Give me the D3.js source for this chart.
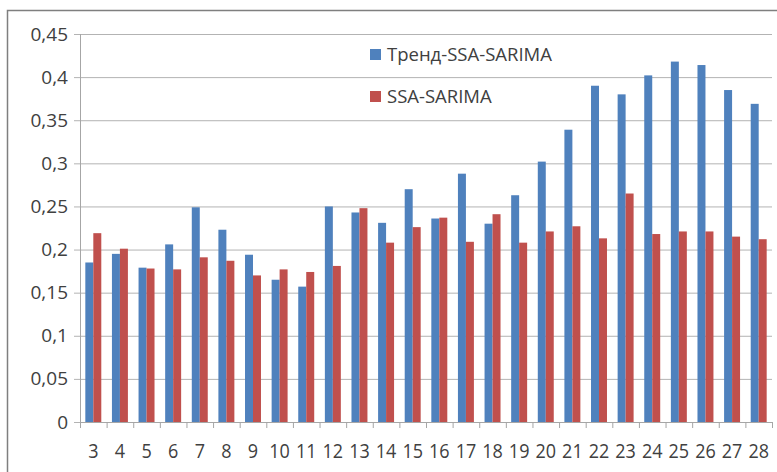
<!DOCTYPE html>
<html>
<head>
<meta charset="utf-8">
<script src="https://cdn.jsdelivr.net/npm/d3@7"></script>
<style>
  body { margin: 0; background: #fff; }
  text { font-family: "Open Sans", sans-serif; fill: #404040; }
</style>
</head>
<body>
<script>
const width = 777;
const height = 472;

// data
const categories = ["3","4","5","6","7","8","9","10","11","12","13","14","15","16","17","18","19","20","21","22","23","24","25","26","27","28"];
const trendSsaSarima = [0.185, 0.195, 0.179, 0.206, 0.249, 0.223, 0.194, 0.165, 0.157, 0.250, 0.243, 0.231, 0.270, 0.236, 0.288, 0.230, 0.263, 0.302, 0.339, 0.390, 0.380, 0.402, 0.418, 0.414, 0.385, 0.369];
const ssaSarima = [0.219, 0.201, 0.178, 0.177, 0.191, 0.187, 0.170, 0.177, 0.174, 0.181, 0.248, 0.208, 0.226, 0.237, 0.209, 0.241, 0.208, 0.221, 0.227, 0.213, 0.265, 0.218, 0.221, 0.221, 0.215, 0.212];
const seriesNames = ["Тренд-SSA-SARIMA", "SSA-SARIMA"];
const seriesColors = ["#4f81bd", "#c0504d"];
const yTicks = [0, 0.05, 0.1, 0.15, 0.2, 0.25, 0.3, 0.35, 0.4, 0.45];

const rows = categories.map((c, i) => ({ cat: c, values: [trendSsaSarima[i], ssaSarima[i]] }));

const margin = { left: 80, right: 5, top: 34, bottom: 50 };
const plotRight = width - margin.right;
const plotBottom = height - margin.bottom;

const svg = d3.select("body").append("svg")
    .attr("width", width)
    .attr("height", height);

// outer chart frame
svg.append("rect")
    .attr("x", 7.5).attr("y", 10.5)
    .attr("width", width).attr("height", height)
    .attr("fill", "none")
    .attr("stroke", "#7f7f7f")
    .attr("stroke-width", 1.5);

const x = d3.scaleBand()
    .domain(categories)
    .range([margin.left, plotRight])
    .paddingInner(0.4)
    .paddingOuter(0.2);

const xs = d3.scaleBand()
    .domain([0, 1])
    .range([0, x.bandwidth()]);

const y = d3.scaleLinear()
    .domain([0, 0.45])
    .range([plotBottom, margin.top]);

const fmt = d => d3.format("~g")(d).replace(".", ",");

// gridlines + y labels
const yAxis = svg.append("g")
    .attr("transform", `translate(${margin.left},0)`)
    .call(d3.axisLeft(y).tickValues(yTicks).tickFormat(fmt).tickSize(-(plotRight - margin.left)).tickPadding(12));
yAxis.select(".domain").remove();
yAxis.selectAll(".tick line")
    .attr("x1", -6)
    .attr("stroke", "#b3b3b3");
yAxis.selectAll(".tick text")
    .attr("font-size", 19)
    .attr("fill", "#404040")
    .style("font-family", "'Open Sans', sans-serif");

// bars
svg.append("g")
    .selectAll("g")
    .data(rows)
    .join("g")
    .attr("transform", d => `translate(${x(d.cat)},0)`)
    .selectAll("rect")
    .data(d => d.values.map((v, i) => ({ v, i })))
    .join("rect")
    .attr("x", d => xs(d.i))
    .attr("width", xs.bandwidth())
    .attr("y", d => y(d.v))
    .attr("height", d => y(0) - y(d.v))
    .attr("fill", d => seriesColors[d.i]);

// y axis line
svg.append("line")
    .attr("x1", margin.left + 0.5).attr("x2", margin.left + 0.5)
    .attr("y1", margin.top).attr("y2", plotBottom + 6)
    .attr("stroke", "#a6a6a6");

// x axis line, ticks at category boundaries
const step = x.step();
svg.append("line")
    .attr("x1", margin.left).attr("x2", plotRight)
    .attr("y1", plotBottom + 0.5).attr("y2", plotBottom + 0.5)
    .attr("stroke", "#a6a6a6");
svg.append("g")
    .selectAll("line")
    .data(d3.range(categories.length + 1))
    .join("line")
    .attr("x1", i => margin.left + i * step + 0.5)
    .attr("x2", i => margin.left + i * step + 0.5)
    .attr("y1", plotBottom)
    .attr("y2", plotBottom + 6)
    .attr("stroke", "#a6a6a6");

svg.append("g")
    .selectAll("text")
    .data(categories)
    .join("text")
    .attr("transform", d => `translate(${x(d) + x.bandwidth() / 2},${plotBottom + 36}) scale(0.9,1)`)
    .attr("text-anchor", "middle")
    .attr("font-size", 20)
    .text(d => d);

// legend
const legend = svg.append("g")
    .selectAll("g")
    .data(seriesNames)
    .join("g")
    .attr("transform", (d, i) => `translate(370,${49 + i * 42})`);
legend.append("rect")
    .attr("width", 11).attr("height", 11)
    .attr("fill", (d, i) => seriesColors[i]);
legend.append("text")
    .attr("x", 17)
    .attr("y", 12)
    .attr("font-size", 18.5)
    .attr("fill", "#333")
    .text(d => d);
</script>
</body>
</html>
